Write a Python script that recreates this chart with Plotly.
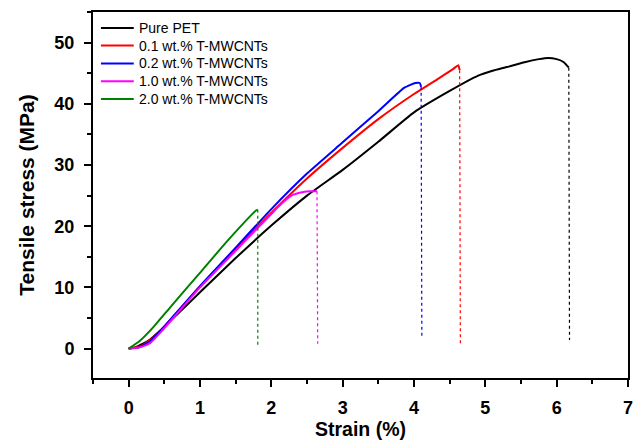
import plotly.graph_objects as go

names = ["Pure PET", "0.1 wt.% T-MWCNTs", "0.2 wt.% T-MWCNTs", "1.0 wt.% T-MWCNTs", "2.0 wt.% T-MWCNTs"]
colors = ["#000000", "#ff0000", "#0000ff", "#ff00ff", "#008000"]

pet_x = [0, 0.1, 0.2, 0.3, 0.4, 0.7, 1.0, 1.5, 2.0, 2.5, 3.0, 3.5, 4.0, 4.5, 4.9, 5.1, 5.3, 5.55, 5.75, 5.88, 6.0, 6.1, 6.17]
pet_y = [0, 0.25, 0.8, 1.5, 2.5, 5.8, 9.2, 14.8, 20.1, 25.0, 29.2, 33.8, 38.6, 42.1, 44.6, 45.4, 46.0, 46.8, 47.3, 47.5, 47.3, 46.8, 45.9]

c01_x = [0, 0.15, 0.3, 0.45, 0.7, 1.0, 1.5, 2.0, 2.5, 3.0, 3.5, 4.0, 4.3, 4.55, 4.62, 4.64]
c01_y = [0, 0.3, 1.4, 3.0, 6.2, 10.2, 16.3, 22.2, 27.8, 32.8, 37.5, 41.6, 43.8, 45.7, 46.3, 45.5]

c02_x = [0, 0.15, 0.3, 0.45, 0.7, 1.0, 1.5, 2.0, 2.5, 3.0, 3.5, 3.86, 3.95, 4.02, 4.08, 4.1]
c02_y = [0, 0.2, 1.2, 3.0, 6.3, 10.2, 16.5, 22.8, 28.6, 33.7, 38.8, 42.6, 43.1, 43.4, 43.4, 42.8]

c10_x = [0, 0.15, 0.3, 0.45, 0.7, 1.0, 1.5, 1.8, 2.0, 2.1, 2.28, 2.45, 2.55, 2.64]
c10_y = [0, 0.2, 0.9, 2.7, 6.0, 10.0, 16.0, 19.6, 22.0, 23.2, 25.0, 25.6, 25.7, 25.7]

c20_x = [0, 0.15, 0.33, 0.6, 1.03, 1.4, 1.79, 1.81]
c20_y = [0, 1.2, 3.3, 7.0, 12.8, 17.8, 22.6, 22.7]

frac_x = [6.18, 4.65, 4.11, 2.65, 1.81]
frac_y = [1.4, 0.4, 1.8, 0.8, 0.4]

xs = [pet_x, c01_x, c02_x, c10_x, c20_x]
ys = [pet_y, c01_y, c02_y, c10_y, c20_y]

x_ticks = [0, 1, 2, 3, 4, 5, 6, 7]
y_ticks = [0, 10, 20, 30, 40, 50]

fig = go.Figure()
for i in range(5):
    fig.add_trace(go.Scatter(x=xs[i], y=ys[i], mode="lines", name=names[i], showlegend=False,
                             line=dict(color=colors[i], width=2, shape="spline", smoothing=0.5)))
for i in range(5):
    fig.add_trace(go.Scatter(x=[xs[i][-1], frac_x[i]], y=[ys[i][-1], frac_y[i]], mode="lines",
                             showlegend=False, line=dict(color=colors[i], width=1.2, dash="dot")))

# custom legend (layout decoration)
W, H, L, T = 538.0, 368.0, 93.0, 10.0
row_px = [26, 43.8, 61.7, 79.6, 97.4]
for i in range(5):
    yp = 1 - (row_px[i] - T) / H
    fig.add_shape(type="line", xref="paper", yref="paper",
                  x0=(101 - L) / W, x1=(134 - L) / W, y0=yp, y1=yp,
                  line=dict(color=colors[i], width=2))
    fig.add_annotation(xref="paper", yref="paper", x=(137 - L) / W, y=yp, text=names[i],
                       showarrow=False, xanchor="left", yanchor="middle",
                       font=dict(size=14, color="black"))

font = "Arial, Liberation Sans, sans-serif"
fig.update_layout(
    width=643, height=448,
    margin=dict(l=93, r=12, t=10, b=70),
    plot_bgcolor="white", paper_bgcolor="white",
    font=dict(family=font, color="black"),
    showlegend=False,
)
fig.update_xaxes(
    range=[-0.5, 7.0], tickvals=x_ticks, ticktext=[str(v) for v in x_ticks],
    showline=True, linecolor="black", linewidth=2, mirror=True,
    ticks="outside", ticklen=7, tickwidth=2, tickcolor="black",
    minor=dict(dtick=0.5, tick0=0, ticks="outside", ticklen=4, tickwidth=1.5, tickcolor="black", showgrid=False),
    showgrid=False, zeroline=False, ticklabelstandoff=5,
    tickfont=dict(size=18, weight="bold"),
    title=dict(text="<b>Strain (%)</b>", font=dict(size=19.5), standoff=6),
)
fig.update_yaxes(
    range=[-4.8, 55.0], tickvals=y_ticks, ticktext=[str(v) for v in y_ticks],
    showline=True, linecolor="black", linewidth=2, mirror=True,
    ticks="outside", ticklen=7, tickwidth=2, tickcolor="black",
    minor=dict(dtick=5, tick0=0, ticks="outside", ticklen=4, tickwidth=1.5, tickcolor="black", showgrid=False),
    showgrid=False, zeroline=False, ticklabelstandoff=6,
    tickfont=dict(size=18, weight="bold"),
    title=dict(text="<b>Tensile stress (MPa)</b>", font=dict(size=21), standoff=14),
)
fig.write_html("out.html")
